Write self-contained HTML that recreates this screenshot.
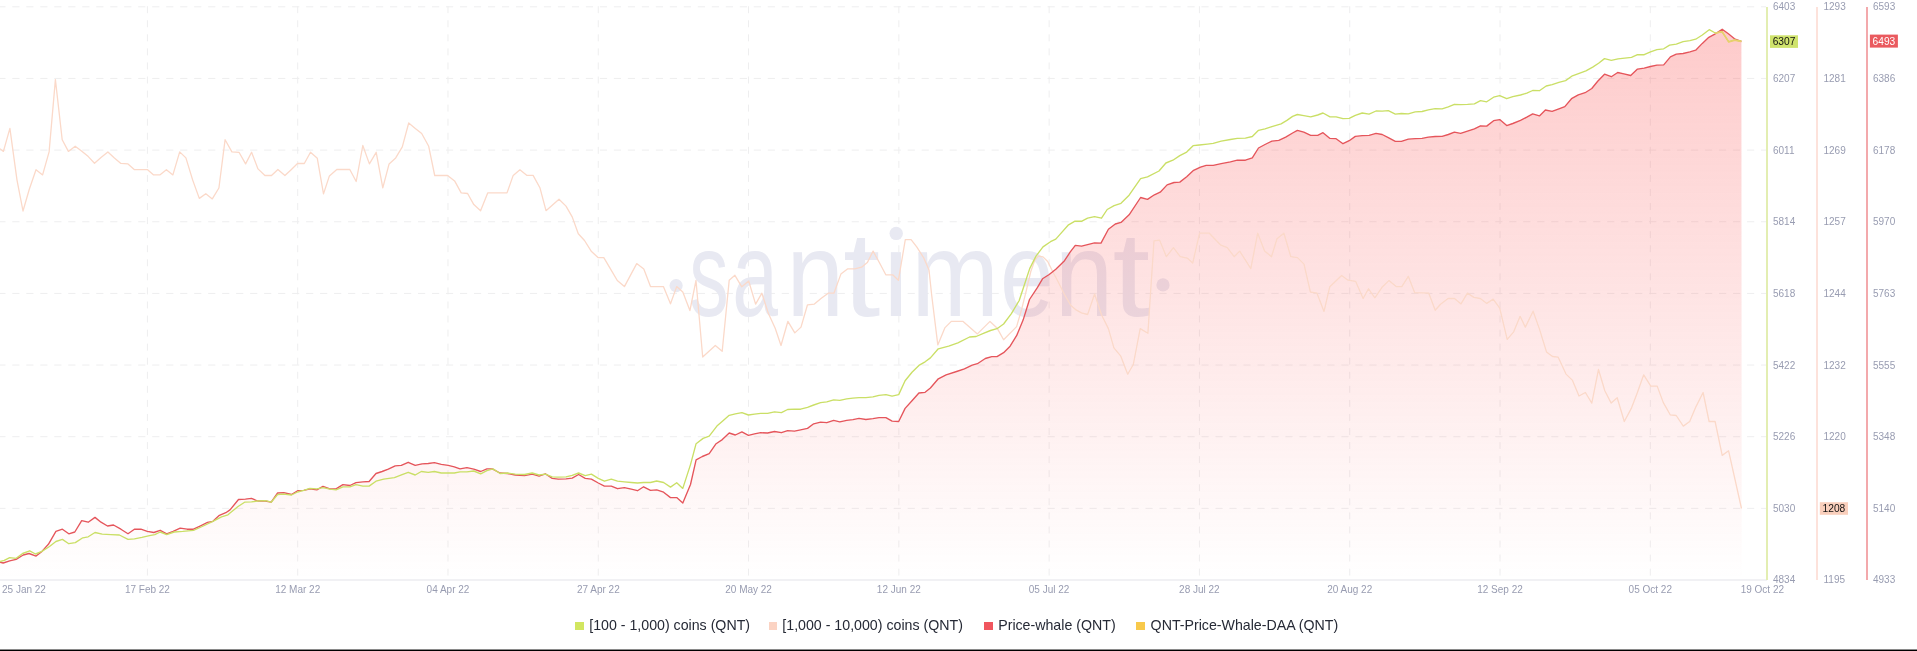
<!DOCTYPE html>
<html><head><meta charset="utf-8"><style>
html,body{margin:0;padding:0;background:#fff;}
body{width:1917px;height:651px;overflow:hidden;position:relative;font-family:"Liberation Sans",sans-serif;}
svg{position:absolute;left:0;top:0;will-change:transform;}
.legend{will-change:transform;}
.legend{position:absolute;top:616px;left:0;width:1917px;height:20px;font-size:14.2px;color:#262a36;white-space:nowrap;}
.legend span.sq{position:absolute;top:5.5px;width:8.7px;height:8.5px;}
.legend span.t{position:absolute;top:0;line-height:18px;}
.bottom{position:absolute;left:0;top:649px;width:1917px;height:2px;background:linear-gradient(#8a8a8a 0,#8a8a8a 1px,#000 1px,#000 2px);}
</style></head><body>
<svg width="1917" height="651" viewBox="0 0 1917 651">
<defs>
<linearGradient id="fillg" x1="0" y1="29" x2="0" y2="580" gradientUnits="userSpaceOnUse">
<stop offset="0" stop-color="#fb5656" stop-opacity="0.31"/>
<stop offset="0.5" stop-color="#fb5656" stop-opacity="0.155"/>
<stop offset="0.96" stop-color="#fb5656" stop-opacity="0.012"/>
<stop offset="1" stop-color="#fb5656" stop-opacity="0"/>
</linearGradient>
</defs>
<g stroke="#eeeeef" stroke-width="1" fill="none">
<g stroke-dasharray="7.2 6.79" stroke-dashoffset="1.7"><line x1="0" y1="6.80" x2="1766" y2="6.80"/><line x1="0" y1="78.45" x2="1766" y2="78.45"/><line x1="0" y1="150.10" x2="1766" y2="150.10"/><line x1="0" y1="221.75" x2="1766" y2="221.75"/><line x1="0" y1="293.40" x2="1766" y2="293.40"/><line x1="0" y1="365.05" x2="1766" y2="365.05"/><line x1="0" y1="436.70" x2="1766" y2="436.70"/><line x1="0" y1="508.35" x2="1766" y2="508.35"/></g>
<g stroke-dasharray="7 7.06"><line x1="147.40" y1="6.2" x2="147.40" y2="577"/><line x1="297.69" y1="6.2" x2="297.69" y2="577"/><line x1="447.98" y1="6.2" x2="447.98" y2="577"/><line x1="598.27" y1="6.2" x2="598.27" y2="577"/><line x1="748.56" y1="6.2" x2="748.56" y2="577"/><line x1="898.85" y1="6.2" x2="898.85" y2="577"/><line x1="1049.14" y1="6.2" x2="1049.14" y2="577"/><line x1="1199.43" y1="6.2" x2="1199.43" y2="577"/><line x1="1349.72" y1="6.2" x2="1349.72" y2="577"/><line x1="1500.01" y1="6.2" x2="1500.01" y2="577"/><line x1="1650.30" y1="6.2" x2="1650.30" y2="577"/></g>
</g>
<line x1="0" y1="580" x2="1767" y2="580" stroke="#f1f1f4" stroke-width="2"/>
<g fill="#e8e9f2" font-size="121" font-family="Liberation Sans"><text transform="translate(689.19 316.2) scale(0.652 1)" x="0" y="0">s</text><text transform="translate(732.24 316.2) scale(0.68 1)" x="0" y="0">a</text><text transform="translate(786.48 316.2) scale(0.854 1)" x="0" y="0">n</text><text transform="translate(843.09 316.2) scale(1.11 1)" x="0" y="0">t</text><text transform="translate(879.98 316.2) scale(0.95 1)" x="0" y="0">ı</text><text transform="translate(911.15 316.2) scale(0.87 1)" x="0" y="0">m</text><text transform="translate(999.93 316.2) scale(0.8 1)" x="0" y="0">e</text><text transform="translate(1054.78 316.2) scale(0.867 1)" x="0" y="0">n</text><text transform="translate(1112.57 316.2) scale(1.12 1)" x="0" y="0">t</text>
<circle cx="676.1" cy="285.6" r="6.6"/><circle cx="896.2" cy="233.4" r="6.7"/><circle cx="1163" cy="284.9" r="6.6"/></g>
<polygon points="0.0,562.2 3.2,563.0 9.7,560.9 16.1,559.4 23.2,555.0 29.0,553.5 36.1,556.1 41.9,551.4 48.4,544.3 55.9,531.4 62.4,529.2 68.8,533.8 74.8,532.0 81.7,520.6 88.2,522.2 95.0,517.4 101.0,522.2 107.5,526.0 113.5,525.0 120.9,529.2 128.0,533.8 134.4,529.2 140.9,529.2 147.3,531.4 153.8,532.5 160.2,530.3 166.7,533.8 173.1,531.4 180.2,528.2 187.1,529.2 193.5,529.2 201.1,525.6 207.5,522.4 212.9,521.3 219.4,515.3 225.8,512.7 230.0,509.9 238.5,499.5 245.4,499.2 251.5,498.4 257.7,501.0 265.3,501.0 271.2,502.2 277.6,493.0 283.8,492.7 291.5,494.5 297.6,490.7 303.8,490.4 309.9,488.9 316.8,489.9 323.0,486.4 329.9,488.9 336.0,488.9 342.9,484.6 349.9,485.5 356.0,482.7 362.9,481.8 369.1,481.5 376.0,473.5 382.1,471.5 388.3,469.2 395.2,465.8 401.3,465.4 408.2,462.3 415.2,465.4 422.1,463.8 428.2,463.5 434.4,462.7 441.3,464.3 448.2,465.4 454.3,466.9 460.0,468.9 466.9,467.6 473.8,469.2 480.7,471.5 486.9,468.9 492.3,468.9 500.0,473.0 507.6,473.5 515.3,475.0 524.5,475.6 532.2,474.1 539.1,476.1 545.3,473.8 552.2,478.4 558.3,479.2 566.0,478.9 572.2,478.1 578.6,474.5 585.2,478.4 591.4,479.2 598.3,483.0 604.4,486.1 611.3,486.1 617.5,488.7 624.4,487.6 631.3,489.1 637.5,490.7 643.6,486.8 650.5,490.4 656.7,489.9 663.6,492.2 670.5,497.6 676.7,497.6 682.8,503.0 690.5,484.5 696.1,459.9 702.3,456.5 709.2,453.7 716.1,443.7 722.3,439.6 729.2,433.0 735.3,435.0 741.9,431.9 748.4,435.3 754.5,433.8 760.7,432.7 767.6,433.0 774.5,431.5 781.4,432.7 787.6,430.7 794.5,431.1 800.6,429.9 807.5,428.4 813.7,423.8 820.6,422.2 826.8,422.7 833.7,420.4 839.8,421.9 846.7,420.4 852.9,419.6 859.0,418.4 865.9,419.5 872.9,418.7 879.0,417.6 885.9,417.6 892.1,421.2 898.7,421.5 905.1,408.4 912.0,400.7 918.9,393.0 925.1,392.3 930.4,388.0 938.3,378.8 946.1,374.9 956.6,371.5 964.4,368.9 972.2,365.2 977.4,363.7 985.3,358.5 991.8,356.6 997.0,356.6 1003.6,352.7 1010.1,346.2 1016.6,335.7 1023.1,320.1 1029.5,299.5 1037.5,287.4 1042.5,278.8 1049.2,274.5 1055.8,269.2 1064.5,260.7 1070.1,252.2 1075.3,245.4 1081.6,246.2 1094.5,242.9 1101.0,243.1 1108.4,229.3 1115.3,224.0 1121.0,222.4 1129.1,214.8 1140.6,197.5 1147.5,199.4 1154.4,194.8 1160.2,192.2 1167.1,184.9 1174.0,182.5 1179.8,182.1 1186.7,176.8 1193.6,170.3 1200.5,167.1 1206.2,165.3 1213.2,165.3 1221.2,163.7 1230.4,161.8 1237.3,160.2 1245.4,160.2 1252.3,157.9 1258.5,148.0 1265.0,144.5 1271.9,141.1 1278.8,140.4 1285.7,137.2 1292.6,133.0 1297.4,130.4 1303.8,132.2 1310.7,135.3 1317.7,135.3 1323.0,132.7 1330.0,138.4 1336.1,138.7 1343.0,143.7 1349.2,140.7 1355.3,136.4 1362.2,135.6 1369.1,135.3 1376.0,133.4 1382.2,134.5 1388.3,137.6 1395.3,141.4 1401.4,141.4 1408.3,139.1 1415.2,138.7 1422.1,138.4 1428.3,137.1 1435.2,136.5 1442.1,136.4 1448.3,134.5 1454.4,132.2 1460.6,133.4 1467.5,131.1 1474.4,128.8 1480.5,125.8 1486.7,126.1 1493.6,120.7 1499.7,119.6 1506.7,125.6 1512.8,123.5 1520.5,120.4 1526.8,117.2 1532.7,113.9 1539.4,115.9 1545.4,110.0 1552.1,111.3 1558.9,108.8 1564.8,106.6 1571.5,98.7 1578.3,94.8 1585.1,92.7 1591.8,88.5 1597.7,81.3 1604.5,74.2 1611.3,76.7 1617.7,72.5 1623.9,73.8 1630.7,75.5 1637.5,69.1 1644.2,68.2 1650.5,66.5 1656.9,65.2 1663.7,64.9 1670.4,56.9 1676.3,54.2 1683.1,53.5 1689.9,51.8 1695.7,50.2 1702.3,43.4 1708.8,37.3 1715.3,33.8 1722.2,29.2 1728.4,33.8 1734.5,38.8 1741.4,41.5 1741.7,580 0,580" fill="url(#fillg)"/>
<polyline points="0.0,148.8 3.4,151.4 9.9,128.4 17.0,180.1 23.0,211.0 29.3,189.3 36.0,169.7 42.6,174.9 49.1,151.9 55.4,79.6 62.2,139.7 68.4,151.4 75.2,146.2 81.5,150.9 88.3,156.6 94.5,163.2 101.3,157.2 107.9,151.9 114.4,157.9 120.9,163.4 128.0,163.9 134.5,169.7 141.0,169.7 147.6,169.7 153.6,174.9 159.8,174.9 166.4,169.7 172.9,174.9 179.7,151.9 185.9,157.9 192.7,180.1 199.3,198.4 205.8,193.7 212.3,198.9 218.9,188.0 225.1,139.7 231.9,151.9 239.0,152.3 245.6,163.9 251.6,152.3 258.0,168.9 264.9,175.5 271.5,175.5 277.9,169.5 284.9,175.5 290.9,169.9 297.5,163.5 304.3,163.5 310.5,152.3 317.3,158.3 323.5,193.9 329.4,175.9 336.8,169.5 343.4,169.5 349.8,169.5 356.2,181.5 362.8,145.5 369.4,163.9 376.2,152.3 382.8,187.9 389.1,163.9 395.7,157.9 402.3,146.9 408.7,123.0 415.3,128.4 421.7,133.5 428.7,146.3 434.7,175.5 441.3,175.5 447.6,175.5 454.6,180.9 461.2,192.9 467.6,193.5 473.8,204.6 480.6,210.7 487.7,192.9 507.0,192.9 513.2,175.4 519.9,169.8 527.0,175.4 533.1,175.4 539.9,187.7 546.0,210.7 559.0,199.3 566.0,206.1 572.2,216.9 578.3,233.8 584.5,240.5 591.5,251.6 598.3,257.7 603.8,257.7 610.6,269.1 617.3,280.5 624.4,286.6 636.7,263.6 643.8,269.1 650.5,286.6 663.4,286.6 670.5,303.8 676.7,286.6 682.8,292.1 689.9,310.6 696.0,280.5 702.7,357.0 715.3,345.5 722.2,351.3 729.2,280.3 734.9,275.3 741.8,286.8 748.7,281.0 755.6,304.1 761.9,293.2 768.3,313.3 775.2,328.2 781.0,345.5 787.9,321.3 794.8,332.9 801.0,327.1 807.5,304.8 814.4,304.1 821.3,298.3 828.2,293.2 833.9,293.2 840.9,274.1 847.8,268.8 854.7,268.8 861.6,267.2 867.3,262.6 873.1,251.1 880.0,263.8 885.8,274.8 892.7,274.8 898.4,280.3 905.3,239.6 911.1,239.6 916.9,247.2 923.8,258.0 929.0,270.0 931.7,295.3 937.8,344.9 944.8,327.9 951.3,321.4 963.1,321.4 977.4,333.9 990.0,321.4 997.0,327.9 1003.6,339.7 1016.6,326.6 1021.5,309.9 1026.1,291.4 1030.8,271.5 1034.6,260.7 1038.4,256.1 1043.0,256.9 1047.7,261.5 1052.3,270.7 1057.6,280.7 1064.5,294.5 1070.7,305.3 1076.1,309.9 1081.4,312.9 1087.6,314.5 1094.6,294.0 1101.5,314.7 1108.4,328.6 1113.9,347.9 1120.8,356.2 1127.7,374.2 1133.3,364.5 1140.2,328.6 1147.9,333.3 1151.2,282.9 1154.0,240.9 1159.5,240.1 1166.4,256.7 1173.4,247.6 1180.3,256.7 1187.2,258.1 1192.7,263.0 1199.6,233.2 1209.3,233.2 1220.4,244.8 1227.3,247.6 1234.2,256.7 1239.7,251.1 1250.8,268.6 1257.7,233.2 1264.6,251.1 1271.5,256.7 1277.0,238.7 1283.9,233.2 1290.8,256.7 1297.5,257.6 1304.0,264.1 1310.4,292.0 1316.9,293.1 1324.0,311.4 1329.8,286.7 1341.6,275.5 1348.1,280.2 1355.6,281.3 1363.1,298.5 1368.5,288.8 1374.9,297.8 1382.5,286.7 1388.9,280.6 1396.5,286.7 1401.8,286.7 1408.3,276.3 1414.7,292.7 1428.7,293.1 1435.2,310.3 1440.5,304.3 1448.1,298.5 1454.5,298.5 1461.0,303.9 1467.4,293.1 1473.9,297.4 1480.3,298.5 1486.8,303.4 1493.2,299.1 1499.7,308.2 1507.2,339.4 1513.7,331.8 1520.1,316.3 1525.3,327.1 1533.1,311.2 1539.4,328.9 1546.5,351.9 1552.5,356.5 1558.2,357.2 1566.0,374.1 1572.3,380.1 1579.0,396.0 1585.4,392.5 1591.8,403.1 1598.5,369.5 1604.8,390.7 1611.2,403.1 1617.2,397.8 1624.3,421.5 1631.3,408.4 1637.4,392.5 1643.7,374.8 1650.8,386.1 1657.2,386.1 1663.2,402.4 1670.2,414.8 1676.2,415.5 1683.3,426.1 1689.7,421.5 1696.0,406.6 1703.1,392.5 1709.1,421.5 1715.1,421.5 1722.2,455.4 1728.6,450.8 1741.5,508.5" fill="none" stroke="#fbd9c9" stroke-width="1.3" stroke-linejoin="round"/>
<polyline points="0.0,562.2 3.2,563.0 9.7,560.9 16.1,559.4 23.2,555.0 29.0,553.5 36.1,556.1 41.9,551.4 48.4,544.3 55.9,531.4 62.4,529.2 68.8,533.8 74.8,532.0 81.7,520.6 88.2,522.2 95.0,517.4 101.0,522.2 107.5,526.0 113.5,525.0 120.9,529.2 128.0,533.8 134.4,529.2 140.9,529.2 147.3,531.4 153.8,532.5 160.2,530.3 166.7,533.8 173.1,531.4 180.2,528.2 187.1,529.2 193.5,529.2 201.1,525.6 207.5,522.4 212.9,521.3 219.4,515.3 225.8,512.7 230.0,509.9 238.5,499.5 245.4,499.2 251.5,498.4 257.7,501.0 265.3,501.0 271.2,502.2 277.6,493.0 283.8,492.7 291.5,494.5 297.6,490.7 303.8,490.4 309.9,488.9 316.8,489.9 323.0,486.4 329.9,488.9 336.0,488.9 342.9,484.6 349.9,485.5 356.0,482.7 362.9,481.8 369.1,481.5 376.0,473.5 382.1,471.5 388.3,469.2 395.2,465.8 401.3,465.4 408.2,462.3 415.2,465.4 422.1,463.8 428.2,463.5 434.4,462.7 441.3,464.3 448.2,465.4 454.3,466.9 460.0,468.9 466.9,467.6 473.8,469.2 480.7,471.5 486.9,468.9 492.3,468.9 500.0,473.0 507.6,473.5 515.3,475.0 524.5,475.6 532.2,474.1 539.1,476.1 545.3,473.8 552.2,478.4 558.3,479.2 566.0,478.9 572.2,478.1 578.6,474.5 585.2,478.4 591.4,479.2 598.3,483.0 604.4,486.1 611.3,486.1 617.5,488.7 624.4,487.6 631.3,489.1 637.5,490.7 643.6,486.8 650.5,490.4 656.7,489.9 663.6,492.2 670.5,497.6 676.7,497.6 682.8,503.0 690.5,484.5 696.1,459.9 702.3,456.5 709.2,453.7 716.1,443.7 722.3,439.6 729.2,433.0 735.3,435.0 741.9,431.9 748.4,435.3 754.5,433.8 760.7,432.7 767.6,433.0 774.5,431.5 781.4,432.7 787.6,430.7 794.5,431.1 800.6,429.9 807.5,428.4 813.7,423.8 820.6,422.2 826.8,422.7 833.7,420.4 839.8,421.9 846.7,420.4 852.9,419.6 859.0,418.4 865.9,419.5 872.9,418.7 879.0,417.6 885.9,417.6 892.1,421.2 898.7,421.5 905.1,408.4 912.0,400.7 918.9,393.0 925.1,392.3 930.4,388.0 938.3,378.8 946.1,374.9 956.6,371.5 964.4,368.9 972.2,365.2 977.4,363.7 985.3,358.5 991.8,356.6 997.0,356.6 1003.6,352.7 1010.1,346.2 1016.6,335.7 1023.1,320.1 1029.5,299.5 1037.5,287.4 1042.5,278.8 1049.2,274.5 1055.8,269.2 1064.5,260.7 1070.1,252.2 1075.3,245.4 1081.6,246.2 1094.5,242.9 1101.0,243.1 1108.4,229.3 1115.3,224.0 1121.0,222.4 1129.1,214.8 1140.6,197.5 1147.5,199.4 1154.4,194.8 1160.2,192.2 1167.1,184.9 1174.0,182.5 1179.8,182.1 1186.7,176.8 1193.6,170.3 1200.5,167.1 1206.2,165.3 1213.2,165.3 1221.2,163.7 1230.4,161.8 1237.3,160.2 1245.4,160.2 1252.3,157.9 1258.5,148.0 1265.0,144.5 1271.9,141.1 1278.8,140.4 1285.7,137.2 1292.6,133.0 1297.4,130.4 1303.8,132.2 1310.7,135.3 1317.7,135.3 1323.0,132.7 1330.0,138.4 1336.1,138.7 1343.0,143.7 1349.2,140.7 1355.3,136.4 1362.2,135.6 1369.1,135.3 1376.0,133.4 1382.2,134.5 1388.3,137.6 1395.3,141.4 1401.4,141.4 1408.3,139.1 1415.2,138.7 1422.1,138.4 1428.3,137.1 1435.2,136.5 1442.1,136.4 1448.3,134.5 1454.4,132.2 1460.6,133.4 1467.5,131.1 1474.4,128.8 1480.5,125.8 1486.7,126.1 1493.6,120.7 1499.7,119.6 1506.7,125.6 1512.8,123.5 1520.5,120.4 1526.8,117.2 1532.7,113.9 1539.4,115.9 1545.4,110.0 1552.1,111.3 1558.9,108.8 1564.8,106.6 1571.5,98.7 1578.3,94.8 1585.1,92.7 1591.8,88.5 1597.7,81.3 1604.5,74.2 1611.3,76.7 1617.7,72.5 1623.9,73.8 1630.7,75.5 1637.5,69.1 1644.2,68.2 1650.5,66.5 1656.9,65.2 1663.7,64.9 1670.4,56.9 1676.3,54.2 1683.1,53.5 1689.9,51.8 1695.7,50.2 1702.3,43.4 1708.8,37.3 1715.3,33.8 1722.2,29.2 1728.4,33.8 1734.5,38.8 1741.4,41.5" fill="none" stroke="#e5555b" stroke-width="1.35" stroke-linejoin="round"/>
<polyline points="0.0,561.5 4.3,560.4 9.7,557.6 16.1,558.3 22.6,553.5 29.7,550.8 35.5,554.0 41.9,551.4 49.5,546.5 55.9,541.5 62.4,539.4 68.8,543.7 75.3,542.6 82.8,537.8 88.2,536.8 95.0,532.5 102.2,534.2 110.8,534.6 119.4,535.0 128.0,539.4 134.4,538.9 141.9,537.4 149.5,535.7 154.8,534.6 160.2,532.0 166.7,534.6 174.2,532.0 182.8,531.4 193.5,530.3 202.2,526.5 212.9,521.3 221.5,516.8 228.0,514.8 230.0,513.0 237.7,506.8 244.6,502.2 251.5,501.8 257.7,501.0 265.3,500.7 271.2,502.2 277.6,494.5 283.8,494.1 291.5,495.0 297.6,492.0 303.8,490.4 309.9,488.4 316.8,488.9 323.0,487.6 329.9,489.2 336.0,489.9 342.9,486.9 349.9,486.9 356.0,484.6 362.9,486.1 369.1,486.1 376.0,481.2 383.7,479.2 394.4,477.6 402.1,474.6 408.2,472.3 415.2,475.0 421.3,471.5 428.2,472.3 434.4,471.5 441.3,473.0 448.2,473.0 454.3,473.0 460.0,471.9 466.9,471.9 473.8,471.0 480.7,473.8 486.9,470.7 493.0,468.9 500.0,473.5 507.6,473.0 515.3,474.1 524.5,474.5 532.2,473.0 539.1,475.0 545.3,474.1 552.2,476.9 558.3,477.2 566.0,476.9 572.2,475.3 578.6,473.0 585.2,475.6 591.4,474.1 598.3,478.4 604.4,481.2 611.3,479.2 617.5,481.2 624.4,481.8 631.3,482.5 637.5,483.0 643.6,482.5 650.5,482.5 656.7,481.0 663.6,482.5 670.5,487.1 676.7,482.7 682.8,488.4 690.5,464.6 696.1,443.7 703.1,438.4 709.2,436.1 716.9,426.1 723.0,420.7 729.2,415.3 735.3,413.8 741.9,412.6 748.4,415.0 754.5,414.1 760.7,413.3 767.6,413.3 774.5,411.9 781.4,412.6 787.6,409.5 794.5,409.2 800.6,409.2 807.5,407.3 813.7,405.0 820.6,402.7 826.8,401.8 833.7,399.9 839.8,400.3 846.7,398.9 852.9,398.1 859.0,397.6 865.9,397.6 872.9,396.9 879.0,395.3 885.9,394.6 892.1,396.1 898.7,394.6 905.1,380.7 912.0,372.3 918.9,365.4 925.1,361.8 930.4,357.9 938.3,348.8 948.7,346.2 957.9,342.8 969.6,337.0 976.1,336.5 984.0,333.1 990.5,330.5 997.0,328.7 1003.6,324.0 1011.4,313.6 1019.2,300.5 1024.4,284.8 1029.7,268.6 1036.0,256.1 1043.0,246.9 1050.5,241.7 1055.8,239.1 1060.0,234.4 1068.1,225.2 1075.0,221.2 1081.9,221.2 1087.6,218.2 1094.5,216.6 1101.5,218.2 1107.2,209.5 1114.1,205.6 1121.0,203.3 1129.1,195.2 1140.6,178.6 1147.5,176.8 1159.0,171.0 1165.9,163.0 1172.9,160.2 1179.8,155.6 1186.7,152.1 1193.1,145.7 1199.3,145.0 1207.4,144.1 1213.2,143.4 1221.2,141.1 1230.4,139.5 1237.3,138.3 1245.4,138.1 1252.3,136.5 1258.5,130.3 1265.0,128.9 1271.9,126.6 1281.1,123.8 1286.9,120.4 1292.6,116.4 1297.4,114.5 1303.8,115.6 1310.7,116.9 1317.7,115.0 1323.0,113.0 1330.0,116.9 1336.1,116.9 1343.0,118.7 1349.2,118.4 1355.3,115.3 1362.2,113.0 1369.1,114.1 1376.0,111.0 1382.2,111.2 1388.3,110.7 1395.3,114.1 1401.4,113.5 1408.3,113.8 1415.2,111.8 1422.1,111.5 1428.3,109.9 1435.2,108.7 1442.1,108.9 1448.3,106.9 1454.4,104.3 1460.6,104.6 1467.5,104.3 1474.4,103.8 1480.5,100.7 1486.7,101.8 1493.6,97.2 1499.7,95.6 1506.7,98.7 1512.8,96.6 1520.5,95.0 1526.8,93.1 1532.7,90.5 1539.4,90.7 1546.2,86.0 1552.1,84.6 1558.9,82.3 1565.6,80.6 1572.4,75.8 1579.2,73.3 1585.9,70.8 1592.7,67.1 1598.6,63.2 1604.5,58.6 1611.3,60.3 1618.0,58.9 1624.8,58.1 1631.5,57.3 1637.5,54.7 1644.2,54.7 1650.5,51.8 1656.9,49.6 1663.7,48.8 1669.6,45.1 1676.3,44.1 1683.1,41.7 1689.9,40.7 1695.7,39.2 1702.3,35.0 1709.2,29.7 1715.3,33.0 1722.0,31.9 1728.7,41.7 1734.6,40.0 1741.4,41.2" fill="none" stroke="#cadf66" stroke-width="1.35" stroke-linejoin="round"/>
<polyline points="1715.3,33.3 1722.2,31.6 1728.7,42.0 1734.6,40.2 1741.4,41.6" fill="none" stroke="#e9cf6c" stroke-width="1.5" stroke-linejoin="round"/>
<line x1="1767" y1="7" x2="1767" y2="580" stroke="#e3eeb2" stroke-width="2"/>
<line x1="1817" y1="7" x2="1817" y2="580" stroke="#fde2db" stroke-width="2"/>
<line x1="1867" y1="7" x2="1867" y2="580" stroke="#f3a9ac" stroke-width="2"/>
<g font-size="10" fill="#989cb1" font-family="Liberation Sans">
<text x="2" y="593" text-anchor="start">25 Jan 22</text>
<text x="147.4" y="593" text-anchor="middle">17 Feb 22</text>
<text x="297.7" y="593" text-anchor="middle">12 Mar 22</text>
<text x="448.0" y="593" text-anchor="middle">04 Apr 22</text>
<text x="598.3" y="593" text-anchor="middle">27 Apr 22</text>
<text x="748.6" y="593" text-anchor="middle">20 May 22</text>
<text x="898.8" y="593" text-anchor="middle">12 Jun 22</text>
<text x="1049.1" y="593" text-anchor="middle">05 Jul 22</text>
<text x="1199.4" y="593" text-anchor="middle">28 Jul 22</text>
<text x="1349.7" y="593" text-anchor="middle">20 Aug 22</text>
<text x="1500.0" y="593" text-anchor="middle">12 Sep 22</text>
<text x="1650.3" y="593" text-anchor="middle">05 Oct 22</text>
<text x="1784" y="593" text-anchor="end">19 Oct 22</text>
<text x="1773" y="10.4">6403</text>
<text x="1823.5" y="10.4">1293</text>
<text x="1873" y="10.4">6593</text>
<text x="1773" y="82.0">6207</text>
<text x="1823.5" y="82.0">1281</text>
<text x="1873" y="82.0">6386</text>
<text x="1773" y="153.7">6011</text>
<text x="1823.5" y="153.7">1269</text>
<text x="1873" y="153.7">6178</text>
<text x="1773" y="225.4">5814</text>
<text x="1823.5" y="225.4">1257</text>
<text x="1873" y="225.4">5970</text>
<text x="1773" y="297.0">5618</text>
<text x="1823.5" y="297.0">1244</text>
<text x="1873" y="297.0">5763</text>
<text x="1773" y="368.7">5422</text>
<text x="1823.5" y="368.7">1232</text>
<text x="1873" y="368.7">5555</text>
<text x="1773" y="440.3">5226</text>
<text x="1823.5" y="440.3">1220</text>
<text x="1873" y="440.3">5348</text>
<text x="1773" y="512.0">5030</text>
<text x="1873" y="512.0">5140</text>
<text x="1773" y="583.2">4834</text>
<text x="1823.5" y="583.2">1195</text>
<text x="1873" y="583.2">4933</text>
</g>
<rect x="1770" y="35.3" width="28" height="12.6" fill="#cfe36c"/>
<text x="1784" y="45.2" font-size="10.2" fill="#111" text-anchor="middle" font-family="Liberation Sans">6307</text>
<rect x="1819.8" y="502.2" width="28.2" height="12.6" fill="#f9cfbc"/>
<text x="1833.9" y="512.2" font-size="10.2" fill="#111" text-anchor="middle" font-family="Liberation Sans">1208</text>
<rect x="1869.9" y="34.6" width="28" height="13" fill="#ea5a5f"/>
<text x="1883.9" y="44.8" font-size="10.2" fill="#fff" text-anchor="middle" font-family="Liberation Sans">6493</text>
</svg>
<div class="legend">
<span class="sq" style="left:575.2px;background:#d2e660"></span><span class="t" style="left:589.2px">[100 - 1,000) coins (QNT)</span>
<span class="sq" style="left:768.8px;background:#fbd3c3"></span><span class="t" style="left:782.3px">[1,000 - 10,000) coins (QNT)</span>
<span class="sq" style="left:984px;background:#f0565e"></span><span class="t" style="left:998.2px">Price-whale (QNT)</span>
<span class="sq" style="left:1136.4px;background:#f8c94b"></span><span class="t" style="left:1150.6px">QNT-Price-Whale-DAA (QNT)</span>
</div>
<div class="bottom"></div>
</body></html>
